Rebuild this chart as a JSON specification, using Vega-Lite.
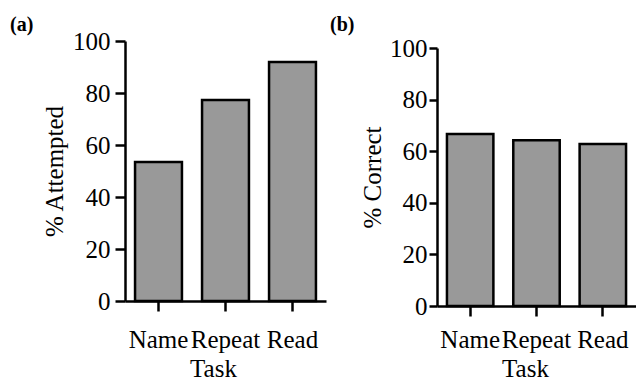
{
  "$schema": "https://vega.github.io/schema/vega-lite/v6.json",
  "background": "white",
  "padding": {"left": 10, "top": 15, "right": 0, "bottom": 0},
  "spacing": 4,
  "config": {
    "font": "Liberation Serif",
    "view": {"stroke": null},
    "axis": {
      "labelFont": "Liberation Serif",
      "titleFont": "Liberation Serif",
      "labelFontSize": 25,
      "titleFontSize": 25,
      "labelColor": "black",
      "titleColor": "black",
      "titleFontWeight": "normal",
      "domainColor": "black",
      "tickColor": "black",
      "domainWidth": 2.5,
      "tickWidth": 2.5,
      "tickSize": 10,
      "grid": false
    },
    "title": {"font": "Liberation Serif", "fontSize": 20, "fontWeight": "bold", "color": "black", "anchor": "start", "frame": "group"}
  },
  "datasets": {
    "attempted": [
      {"task": "Name", "pct": 53.5},
      {"task": "Repeat", "pct": 77.3},
      {"task": "Read", "pct": 91.9}
    ],
    "correct": [
      {"task": "Name", "pct": 66.7},
      {"task": "Repeat", "pct": 64.2},
      {"task": "Read", "pct": 62.8}
    ]
  },
  "hconcat": [
    {
      "title": {"text": "(a)", "offset": -6, "dx": -115},
      "width": 201,
      "height": 260,
      "data": {"name": "attempted"},
      "mark": {"type": "bar", "fill": "#999999", "stroke": "black", "strokeWidth": 2.5},
      "encoding": {
        "x": {"field": "task", "type": "nominal", "sort": null,
              "scale": {"paddingInner": 0.3, "paddingOuter": 0.15},
              "axis": {"title": "Task", "labelAngle": 0, "labelPadding": 16, "titlePadding": 4, "titleX": 88}},
        "y": {"field": "pct", "type": "quantitative",
              "scale": {"domain": [0, 100]},
              "axis": {"title": "% Attempted", "values": [0, 20, 40, 60, 80, 100], "labelPadding": 5, "titlePadding": 5}}
      }
    },
    {
      "title": {"text": "(b)", "offset": 1, "dx": -107},
      "width": 199,
      "height": 265,
      "data": {"name": "correct"},
      "mark": {"type": "bar", "fill": "#999999", "stroke": "black", "strokeWidth": 2.5},
      "encoding": {
        "x": {"field": "task", "type": "nominal", "sort": null,
              "scale": {"paddingInner": 0.3, "paddingOuter": 0.15},
              "axis": {"title": "Task", "labelAngle": 0, "labelPadding": 11, "titlePadding": 4, "titleX": 88}},
        "y": {"field": "pct", "type": "quantitative",
              "scale": {"domain": [0, 100], "range": [265, 7]},
              "axis": {"title": "% Correct", "values": [0, 20, 40, 60, 80, 100], "labelPadding": 2, "titlePadding": 4, "tickSize": 8}}
      }
    }
  ]
}
